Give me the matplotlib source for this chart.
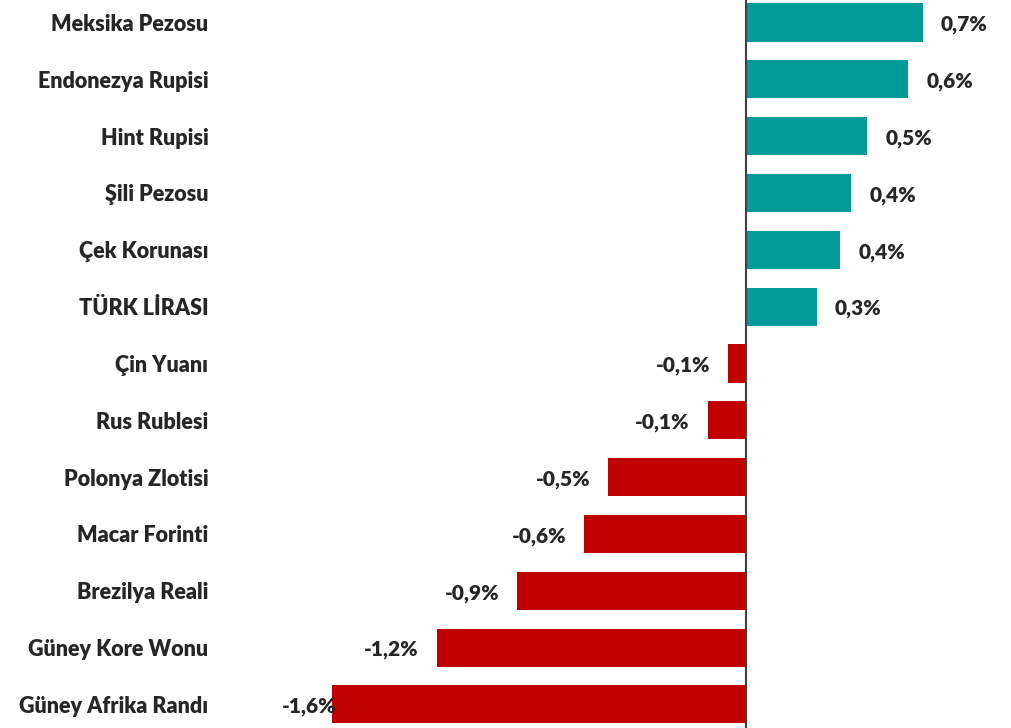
import matplotlib
matplotlib.use("Agg")
import matplotlib.pyplot as plt

categories = ["Meksika Pezosu", "Endonezya Rupisi", "Hint Rupisi", "Şili Pezosu",
              "Çek Korunası", "TÜRK LİRASI", "Çin Yuanı", "Rus Rublesi",
              "Polonya Zlotisi", "Macar Forinti", "Brezilya Reali",
              "Güney Kore Wonu", "Güney Afrika Randı"]
values = [0.685, 0.628, 0.469, 0.407, 0.365, 0.275, -0.07, -0.149,
          -0.535, -0.628, -0.888, -1.20, -1.606]

pos_color = "#009B98"
neg_color = "#C00000"
text_color = "#262626"

plt.rcParams['font.family'] = ['Lato', 'DejaVu Sans']

fig = plt.figure(figsize=(10.12, 7.28), dpi=100)
ax = fig.add_axes([282/1012, 0, (1004-282)/1012, 1])

xmin, xmax = -1.8, 1.0
ax.set_xlim(xmin, xmax)
n = len(categories)
top_c, step = 22.5, 56.83
ax.set_ylim((728 - top_c) / step, -top_c / step)

ypos = list(range(n))
colors = [pos_color if v >= 0 else neg_color for v in values]
ax.barh(ypos, values, height=0.67, color=colors, zorder=2)
ax.axvline(0, color="#404040", lw=1.5, zorder=3)

fs_val = 15
pad = 0.07
for y, v in zip(ypos, values):
    lab = f"{v:.1f}".replace(".", ",") + "%"
    if v >= 0:
        ax.text(v + pad, y + 0.04, lab, ha="left", va="center", fontsize=fs_val,
                fontweight="heavy", color=text_color)
    else:
        x = v - pad
        if x - 0.21 < xmin:
            ax.text(xmin, y + 0.04, lab, ha="left", va="center", fontsize=fs_val,
                    fontweight="heavy", color=text_color, zorder=4)
        else:
            ax.text(x, y + 0.04, lab, ha="right", va="center", fontsize=fs_val,
                    fontweight="heavy", color=text_color)

ax.set_yticks(ypos)
ax.set_yticklabels(categories, fontsize=15.5, fontweight="heavy", color=text_color)
ax.tick_params(axis="y", length=0, pad=53)
ax.set_xticks([])
for s in ax.spines.values():
    s.set_visible(False)

fig.savefig("out.png", dpi=100)
